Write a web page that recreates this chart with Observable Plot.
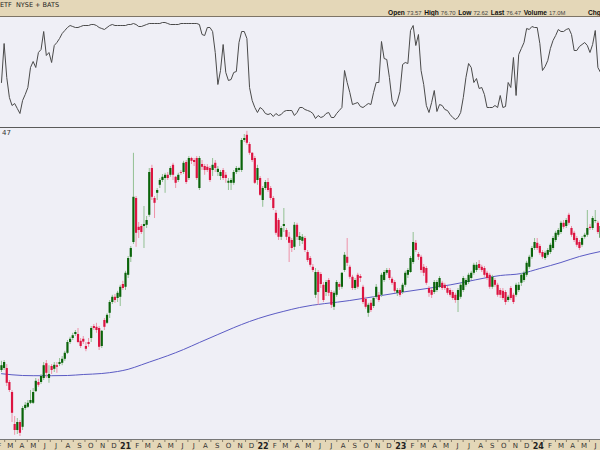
<!DOCTYPE html>
<html><head><meta charset="utf-8">
<script src="https://cdn.jsdelivr.net/npm/d3@7"></script>
<script src="https://cdn.jsdelivr.net/npm/@observablehq/plot@0.6"></script>
<style>
html,body{margin:0;padding:0;background:#fff;}
#wrap{width:600px;height:450px;overflow:hidden;position:relative;font-family:"Liberation Sans",Arial,sans-serif;}
#hdr{height:16px;background:#e4d7b8;border-bottom:1px solid #7d7466;position:relative;font-size:7px;color:#222;overflow:hidden;}
#hdr .l{position:absolute;left:0;top:1px;white-space:nowrap;font-family:"DejaVu Sans",sans-serif;font-size:6.5px;}
#hdr .q{position:absolute;left:388px;top:9px;white-space:nowrap;line-height:7px;}
#hdr .c{position:absolute;left:588px;top:9px;white-space:nowrap;line-height:7px;font-weight:bold;font-size:6.6px;color:#111;}
#hdr .b{font-weight:bold;color:#111;font-size:6.6px;margin-right:2px;}
#hdr .v{color:#444;font-size:5.9px;margin-right:2.6px;}
#ind svg,#main svg,#axis svg{display:block;}
#main{border-top:1px solid #5a5a5a;position:relative;}
#axis{border-top:1px solid #777;}
#lbl{position:absolute;left:2px;top:1px;font-size:7px;color:#333;font-family:"DejaVu Sans",sans-serif;}
</style></head>
<body><div id="wrap">
<div id="hdr"><div class="l">ETF&nbsp; NYSE + BATS</div><div class="q" id="quote"></div><div class="c" id="chg"></div></div>
<div id="ind"></div>
<div id="main"><div id="lbl">47</div></div>
<div id="axis"></div>
</div>
<script>
// Weekly candles (prices), Feb 2020 - Jun 2024
const opens = [40.5,41.0,41.0,37.5,35.0,27.0,25.5,27.5,26.3,31.0,31.3,32.3,32.3,35.2,37.5,37.5,38.5,42.2,38.5,41.5,40.8,41.7,42.0,42.3,43.3,44.8,47.5,48.5,49.5,49.5,47.8,48.3,46.5,47.5,48.5,51.5,51.3,51.0,46.5,53.0,52.3,54.8,57.5,58.8,58.5,58.8,62.0,61.3,64.3,68.8,72.5,83.5,76.3,76.5,76.5,76.8,79.3,91.0,83.5,84.8,86.8,88.0,88.5,89.3,89.3,91.8,88.8,88.0,90.0,90.0,92.5,88.5,93.5,93.0,93.5,86.0,92.0,91.5,91.3,91.0,90.5,92.3,90.0,89.0,90.5,89.3,87.3,87.3,87.3,90.0,90.5,90.5,98.0,99.3,97.0,94.8,93.5,88.0,88.5,83.0,86.0,87.5,86.0,83.5,79.8,78.0,73.8,76.5,75.5,73.8,73.0,71.3,76.8,73.0,72.8,73.5,70.0,68.5,66.3,59.3,65.0,64.5,61.8,60.0,63.0,60.0,56.3,59.3,62.0,61.3,65.5,68.8,66.3,63.8,61.0,64.3,64.0,61.3,58.3,54.8,57.3,56.5,58.8,59.3,59.3,63.0,64.8,65.5,63.3,62.5,59.8,60.5,60.0,61.8,64.3,65.0,67.5,72.3,69.5,68.8,66.3,66.0,61.0,60.5,60.0,60.5,61.3,62.3,61.8,61.0,60.5,60.0,59.3,58.0,58.8,60.5,61.8,62.5,63.5,64.8,65.5,67.0,66.3,66.0,64.8,64.3,61.3,63.0,61.8,60.5,60.3,60.0,58.0,61.0,59.3,59.3,60.5,62.3,63.0,64.3,66.3,68.8,71.0,72.3,71.5,70.0,68.5,69.3,70.0,71.0,73.0,74.3,75.0,77.3,76.5,79.3,76.0,74.8,73.5,72.5,71.8,73.8,74.3,76.3,76.0,77.8,77.3,73.57];
const highs = [42.8,43.0,42.0,38.0,35.5,29.0,28.5,28.0,31.5,32.5,33.0,35.5,36.0,38.5,38.3,39.5,42.5,43.0,41.7,42.0,42.5,42.5,43.5,44.0,45.3,48.0,48.8,49.8,50.5,51.0,48.5,49.0,47.5,48.5,51.5,52.0,52.3,51.5,50.5,53.5,54.7,58.0,59.3,59.5,60.3,61.8,62.8,65.3,69.0,71.5,94.8,84.0,77.5,77.0,81.5,79.0,91.0,91.8,84.0,86.0,88.5,89.5,89.8,90.0,91.5,92.3,89.0,89.8,90.5,92.8,93.0,94.0,93.8,93.5,94.0,94.0,93.0,92.0,92.0,91.5,93.5,93.0,91.5,90.5,91.0,90.0,88.5,88.5,90.5,91.5,91.3,98.5,99.5,100.3,97.5,95.0,94.0,91.8,89.0,86.5,88.0,88.5,86.5,84.0,80.5,78.5,76.5,81.0,76.0,75.0,73.5,77.5,77.3,75.0,74.5,74.0,70.5,69.0,67.0,66.0,65.5,65.0,62.5,63.0,63.5,60.5,60.3,63.0,62.5,65.0,70.0,73.5,66.8,64.3,63.5,64.8,64.5,61.8,58.8,57.3,58.0,59.0,62.0,60.0,64.8,65.5,66.0,66.0,63.8,63.0,61.0,61.0,62.3,65.3,66.0,69.0,75.0,73.0,70.0,69.3,67.0,66.5,61.5,61.0,63.0,63.0,64.0,62.8,62.3,61.5,61.0,60.5,59.8,61.0,62.3,64.0,63.5,64.8,65.3,67.3,67.5,68.0,66.8,66.5,65.3,64.8,64.3,63.5,62.3,61.0,61.0,60.5,59.3,61.5,59.8,62.3,62.5,64.8,65.3,67.8,69.3,71.5,73.5,73.5,72.0,70.5,70.3,71.0,72.3,74.0,75.3,76.0,77.8,78.0,78.5,79.8,76.5,75.3,74.0,73.0,74.0,74.8,80.5,77.0,79.0,80.5,77.8,76.70];
const lows = [40.0,40.5,36.5,35.0,27.5,24.3,24.5,24.0,25.5,30.5,31.0,32.0,32.0,35.0,36.3,37.0,38.0,38.5,37.3,39.5,40.0,39.8,41.5,41.7,42.8,44.5,47.0,48.0,49.0,47.2,46.0,47.0,45.2,46.3,47.5,50.5,49.8,45.5,46.0,50.5,52.0,53.5,57.0,57.3,57.5,56.5,60.5,60.5,63.5,67.5,72.0,71.3,73.5,74.5,71.0,76.0,78.8,83.0,78.5,83.0,86.0,87.5,84.8,88.0,88.8,88.0,86.0,87.5,89.3,89.5,87.0,88.0,92.0,91.5,88.0,85.5,90.5,89.3,90.0,87.5,89.0,90.0,89.0,88.0,88.0,87.3,85.5,85.5,86.8,89.5,90.0,90.0,97.5,96.8,94.3,92.5,87.0,86.8,84.0,81.3,85.5,85.0,83.0,80.5,74.3,73.0,73.0,75.0,73.0,67.5,70.0,70.5,73.0,71.5,72.0,70.0,67.5,66.3,65.0,58.5,56.8,61.0,57.5,59.0,59.0,56.0,55.5,58.8,60.5,60.8,65.0,66.5,63.3,60.5,60.5,60.8,62.5,57.0,55.8,53.8,55.0,56.0,58.3,57.5,58.8,62.5,64.3,63.0,61.8,59.8,59.0,58.8,59.5,61.3,63.5,64.8,67.0,70.0,68.0,64.8,64.0,61.8,58.8,58.5,59.5,60.0,61.0,60.5,60.5,59.3,58.8,58.0,57.3,55.0,58.3,60.0,61.3,62.0,63.0,64.3,65.0,65.5,65.0,63.8,63.0,60.8,60.8,61.3,58.8,58.5,58.0,56.8,57.5,58.0,57.0,58.8,60.0,61.5,62.5,63.8,65.8,68.3,70.5,70.5,69.3,68.3,68.0,68.8,69.5,70.5,72.5,73.8,74.5,75.8,76.0,76.8,73.8,72.5,71.3,70.5,71.3,73.3,73.8,75.5,75.5,77.3,74.5,72.62];
const closes = [41.7,42.5,37.3,35.5,29.8,25.5,27.5,24.8,31.0,31.8,32.3,33.0,35.0,37.8,36.8,39.0,41.7,39.8,39.5,40.5,41.8,41.3,42.5,43.3,44.8,47.5,48.3,49.2,50.0,47.5,46.5,47.6,45.8,47.0,51.0,51.0,50.5,46.3,50.3,51.3,54.3,57.5,58.8,58.0,59.8,61.3,61.0,64.8,68.5,71.0,83.8,74.8,75.5,75.0,77.0,78.0,90.0,83.8,82.3,85.5,88.0,88.8,89.3,88.5,91.0,89.3,87.3,89.3,89.8,92.3,87.5,93.5,92.8,92.5,88.5,93.5,91.3,90.5,90.5,88.0,91.8,91.0,90.8,90.0,88.5,88.5,87.8,88.0,90.0,91.0,91.0,98.0,98.5,97.3,94.8,93.0,87.3,91.0,84.3,86.0,87.5,85.5,83.5,81.0,74.8,73.8,76.0,77.0,73.8,72.3,71.0,76.8,73.8,74.0,73.8,70.5,68.0,66.8,65.5,65.0,60.0,62.0,58.0,62.5,59.8,56.8,59.8,62.5,61.3,64.8,69.3,67.3,63.8,61.0,63.0,61.3,63.5,57.5,56.3,56.8,55.5,58.5,61.3,58.0,64.3,65.0,65.5,63.5,62.3,60.3,60.5,59.3,61.8,64.8,65.5,68.5,72.5,70.5,68.8,65.5,64.8,62.3,59.8,59.3,62.5,62.5,63.5,61.0,61.0,59.8,59.3,58.5,58.0,60.5,61.8,63.5,63.0,64.3,64.8,66.8,66.8,66.0,65.5,64.3,63.5,61.3,63.8,61.8,59.3,59.3,58.5,57.5,58.8,58.5,57.5,61.8,61.8,64.3,64.8,67.3,68.8,71.0,72.5,71.0,69.8,68.8,69.8,70.5,71.8,73.5,74.8,75.5,77.3,76.3,78.0,77.3,74.3,73.0,71.8,71.0,73.5,74.3,76.0,76.0,78.5,78.0,75.0,76.47];
// 200-day (40-week) moving average, read at selected weeks (week index, price)
const maWeek = [0,8,12,19,25,31,38,44,48,53,56,63,69,75,82,88,94,101,107,113,132,151,170,189,197,204,212,219,227];
const maValue = [39.7,39.25,39.2,39.2,39.25,39.5,39.75,40.25,40.8,41.9,42.6,44.2,45.75,47.5,49.5,51.2,52.75,54.25,55.3,56.25,58.0,60.0,61.9,64.25,64.75,66.0,67.5,69.0,70.25];
// upper indicator panel (0-100), one value per week
const indicator = [40,79,45,25,17,19,14,9,22,28, 35,55,61,55,70,73,91,67,70,60, 77,80,84,89,92,95,97,96,95,95, 96,97,97,97,98,98,97,95,94,93, 95,97,98,97,97,97,97,97,98,98, 99,98,96,96,97,98,99,99,99,99, 99,100,100,99,98,98,98,98,99,99, 99,99,99,99,99,98,88,87,95,95, 91,70,38,52,78,50,42,43,50,51, 80,91,91,84,35,22,15,10,15,13, 9,8,9,6,9,7,8,11,12,12, 12,7,10,15, 15,13,12,11,9,4, 7,5,6,9,10,5,5,9,12,15, 52,40,30,18,19,20,16,15,17,19, 18,30,40,40,81,64,63,45,22,16, 21,31,58,60,59,92,97,77,88,52, 38,17,10,20,32,11,18,17,13,12, 8,5,3,5,10,25,45,59,55,40, 44,34,35,28,15,15,15,17,15,27, 15,16,40,35,65,27,68,74,80,94, 93,96,95,95,79,52,56,62,74,82, 87,93,91,91,93,94,88,72,72,76, 78,80,77,70,78,92,55,50];
const monthLetters = ["J","F","M","A","M","J","J","A","S","O","N","D"];
// header quote line
const quoteLabels = ["Open","High","Low","Last","Volume"];
const quoteValues = ["73.57","76.70","72.62","76.47","17.0M"];
const chgLabel = "Chg";

// header: labels and values
const quote = document.getElementById("quote");
quoteLabels.forEach((t,i)=>{
  const s=document.createElement("span"); s.className="b"; s.textContent=t; quote.appendChild(s);
  const v=document.createElement("span"); v.className="v"; v.textContent=quoteValues[i]; quote.appendChild(v);
});
document.getElementById("chg").textContent = chgLabel;

const weeks = d3.utcFriday.range(new Date(Date.UTC(2020,1,7)), new Date(Date.UTC(2024,5,15)));
const candles = weeks.map((d,i)=>({date:d,o:opens[i],h:highs[i],l:lows[i],c:closes[i]}));
const up = candles.filter(d=>d.c>=d.o), down = candles.filter(d=>d.c<d.o);
const ma = maWeek.map((w,i)=>({date:weeks[w],v:maValue[i]}));
const ind = weeks.map((d,i)=>({date:d,v:indicator[i]}));
const xDomain = [new Date(Date.UTC(2020,1,4,10)), new Date(Date.UTC(2024,5,13,22))];
const bg = "#efeff6";

document.getElementById("ind").appendChild(Plot.plot({
  width:600,height:110,marginTop:5,marginBottom:5,marginLeft:0,marginRight:0,
  x:{type:"utc",domain:xDomain,axis:null},
  y:{domain:[0,100],axis:null},
  style:{background:bg},
  marks:[Plot.line(ind,{x:"date",y:"v",stroke:"#4a4a4a",strokeWidth:1})]
}));

document.getElementById("main").appendChild(Plot.plot({
  width:600,height:311,marginTop:0,marginBottom:0,marginLeft:0,marginRight:0,
  x:{type:"utc",domain:xDomain,axis:null},
  y:{domain:[23.25,101],range:[311,0],axis:null},
  style:{background:bg},
  marks:[
    Plot.line(ma,{x:"date",y:"v",stroke:"#5b5bc4",strokeWidth:1,curve:"monotone-x"}),
    Plot.ruleX(up,{x:"date",y1:"l",y2:"h",stroke:"#92c092",strokeWidth:1}),
    Plot.ruleX(down,{x:"date",y1:"l",y2:"h",stroke:"#ee92a8",strokeWidth:1}),
    Plot.ruleX(up,{x:"date",y1:"o",y2:"c",stroke:"#0a640a",strokeWidth:2.2}),
    Plot.ruleX(down,{x:"date",y1:"o",y2:"c",stroke:"#dc1441",strokeWidth:2.2})
  ]
}));

const months = d3.utcMonth.range(new Date(Date.UTC(2020,1,1)), new Date(Date.UTC(2024,6,1)));
const mids = months.map(d=>new Date(d.getTime()+14.5*864e5));
const fmt = d => d.getUTCMonth()===0 ? String(d.getUTCFullYear()).slice(2) : monthLetters[d.getUTCMonth()];
document.getElementById("axis").appendChild(Plot.plot({
  width:600,height:10,margin:0,
  x:{type:"utc",domain:xDomain,axis:null},
  y:{domain:[0,10],range:[0,10],axis:null},
  style:{background:"#e4d7b8",fontFamily:"DejaVu Sans, sans-serif"},
  marks:[
    Plot.ruleX(mids,{x:d=>d,y1:0,y2:2,stroke:"#8a7f6a",strokeWidth:1}),
    Plot.text(months.filter(d=>d.getUTCMonth()!==0),{x:d=>d,y:5.5,text:fmt,fontSize:7,fill:"#333"}),
    Plot.text(months.filter(d=>d.getUTCMonth()===0),{x:d=>d,y:5.5,text:fmt,fontSize:8,fontWeight:"bold",fill:"#222"})
  ]
}));
</script></body></html>
